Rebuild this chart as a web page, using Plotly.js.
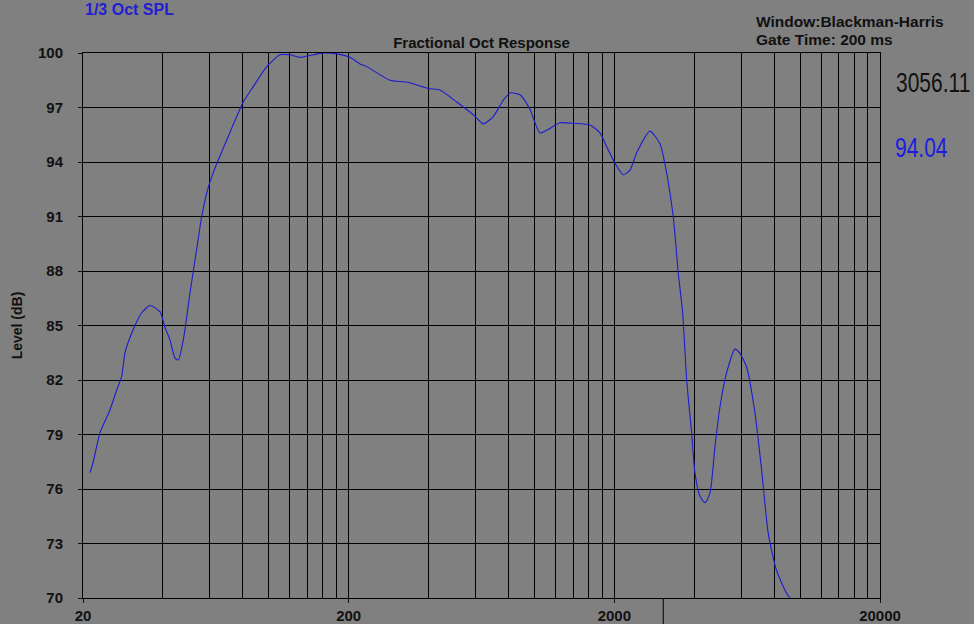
<!DOCTYPE html>
<html>
<head>
<meta charset="utf-8">
<script src="https://cdn.plot.ly/plotly-3.0.1.min.js"></script>
<style>
html,body{margin:0;padding:0;background:#808080;}
#chart{width:974px;height:624px;}
</style>
</head>
<body>
<div id="chart"></div>
<script>
// Frequency (Hz) and level (dB)
var freqHz = [21.25,21.87,23.17,25.27,26.78,27.97,28.78,30.85,33.28,35.74,38.98,40.71,42.51,44.40,45.69,47.71,50.56,53.58,55.95,59.24,63.71,69.47,80.23,87.5,98.3,110.3,120.3,131.1,147.2,160.5,180.2,202.3,220.6,233.8,286,330.6,398.7,441.3,510,588.8,642.2,700.4,763.8,809.4,882.6,962.4,1049.6,1144.6,1248,1400,1619,1765,1871,2011,2160,2290,2426,2722,2970,3100,3332,3480,3616,3744,3908,4022,4200,4386,4580,4782,4994,5294,5688,5938,6296,6764,7168,7592,8164,8904,9162];
var levelDb = [76.9,77.5,79.1,80.35,81.45,82.2,83.5,84.75,85.7,86.1,85.76,84.9,84.2,83.2,83.1,84.2,86.8,89.2,91.0,92.6,93.9,95.2,97.3,98.15,99.25,99.9,99.9,99.76,99.9,100.0,99.95,99.76,99.4,99.25,98.5,98.4,98.05,97.96,97.3,96.6,96.1,96.5,97.4,97.8,97.7,96.9,95.6,95.85,96.16,96.13,96.04,95.6,94.84,93.93,93.3,93.55,94.5,95.7,95.0,93.9,91.0,87.9,85.7,82.0,79.1,76.9,75.6,75.25,75.77,78.3,80.5,82.4,83.7,83.47,82.7,80.2,77.05,73.56,71.5,70.26,70.0];

var xMajorTicks = [20,200,2000,20000];
var xMajorLabels = ["20","200","2000","20000"];
var xMinorTicks = [40,60,80,100,120,140,160,180,400,600,800,1000,1200,1400,1600,1800,4000,6000,8000,10000,12000,14000,16000,18000];
var yTicks = [70,73,76,79,82,85,88,91,94,97,100];

var cursorFreq = 3056.11;
var cursorLevel = 94.04;

var traces = [{
  x: freqHz, y: levelDb, type: 'scatter', mode: 'lines',
  line: {color: '#1c1cd0', width: 1.1, shape: 'spline', smoothing: 0.6},
  hoverinfo: 'skip'
}];

var layout = {
  width: 974, height: 624,
  paper_bgcolor: '#808080', plot_bgcolor: '#808080',
  margin: {l: 83, r: 94, t: 53, b: 26},
  showlegend: false,
  font: {family: 'Liberation Sans, Arial, sans-serif', color: '#111'},
  title: {text: 'Fractional Oct Response', font: {size: 15, color: '#111', weight: 'bold'}, x: 0.5, xanchor: 'center', xref: 'paper', y: 1, yref: 'paper', yanchor: 'bottom', pad: {b: 5}},
  xaxis: {
    type: 'log', range: [Math.log10(20), Math.log10(20000)],
    tickmode: 'array', tickvals: xMajorTicks, ticktext: xMajorLabels,
    ticks: 'outside', ticklen: 4, tickcolor: '#111', tickwidth: 1,
    tickfont: {size: 15, color: '#111', weight: 'bold'},
    showgrid: true, gridcolor: '#000', gridwidth: 1,
    minor: {tickmode: 'array', tickvals: xMinorTicks, showgrid: true, gridcolor: '#000', gridwidth: 1, ticks: ''},
    showline: true, linecolor: '#000', linewidth: 1, mirror: true,
    zeroline: false, fixedrange: true
  },
  yaxis: {
    range: [70, 100], tickmode: 'array', tickvals: yTicks,
    ticks: 'outside', ticklen: 4, tickcolor: '#111', tickwidth: 1,
    ticklabelstandoff: 12,
    tickfont: {size: 15, color: '#111', weight: 'bold'},
    showgrid: true, gridcolor: '#000', gridwidth: 1,
    showline: true, linecolor: '#000', linewidth: 1, mirror: true,
    zeroline: false, fixedrange: true,
    title: {text: 'Level (dB)', font: {size: 14, color: '#111', weight: 'bold'}, standoff: 12}
  },
  shapes: [{
    type: 'line', xref: 'x', yref: 'paper', x0: cursorFreq, x1: cursorFreq, y0: 0, y1: -0.05,
    line: {color: '#000', width: 1}
  }],
  annotations: [
    {text: '1/3 Oct SPL', xref: 'paper', yref: 'paper', x: 0.0, y: 1.079, xanchor: 'left', yanchor: 'middle', xshift: 0, showarrow: false, font: {size: 16, color: '#2020d0', weight: 'bold'}},
    {text: 'Window:Blackman-Harris', xref: 'paper', yref: 'paper', x: 0.842, y: 1.057, xanchor: 'left', yanchor: 'middle', showarrow: false, font: {size: 15.5, color: '#111', weight: 'bold'}},
    {text: 'Gate Time: 200 ms', xref: 'paper', yref: 'paper', x: 0.842, y: 1.024, xanchor: 'left', yanchor: 'middle', showarrow: false, font: {size: 15.5, color: '#111', weight: 'bold'}},
    {text: String(cursorFreq), xref: 'paper', yref: 'paper', x: 1.0671, y: 0.945, xanchor: 'center', yanchor: 'middle', borderpad: 0, showarrow: false, font: {size: 21, color: '#111'}},
    {text: String(cursorLevel), xref: 'paper', yref: 'paper', x: 1.0521, y: 0.826, xanchor: 'center', yanchor: 'middle', borderpad: 0, showarrow: false, font: {size: 21, color: '#1c1ce0'}}
  ]
};

var tallTexts = [String(cursorFreq), String(cursorLevel)];

Plotly.newPlot('chart', traces, layout, {displayModeBar: false, staticPlot: true}).then(function(gd){
  var texts = gd.querySelectorAll('.annotation-text');
  texts.forEach(function(t){
    if (tallTexts.indexOf(t.textContent) >= 0) {
      var bb = t.getBBox();
      var cy = bb.y + bb.height / 2;
      t.setAttribute('transform', 'translate(0,' + cy + ') scale(1,1.3) translate(0,' + (-cy) + ')');
    }
  });
});
</script>
</body>
</html>
